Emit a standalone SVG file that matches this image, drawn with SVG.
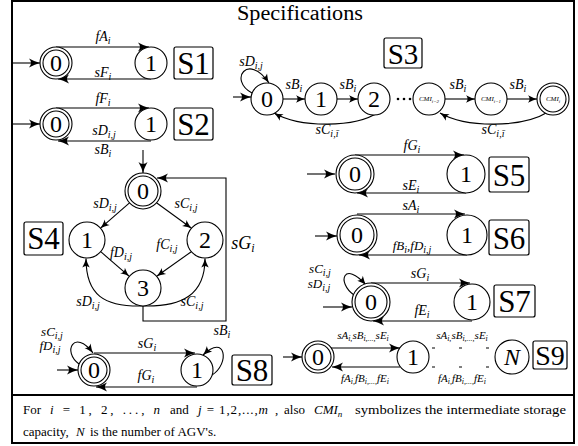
<svg xmlns="http://www.w3.org/2000/svg" width="578" height="446" viewBox="0 0 578 446">
<style>
text{font-family:"Liberation Serif","Times New Roman","DejaVu Serif",serif}
.c{fill:#fff;stroke:#000;stroke-width:1.1}
.e{fill:none;stroke:#000;stroke-width:1.1;marker-end:url(#a)}
.es{fill:none;stroke:#000;stroke-width:1.1;marker-end:url(#b)}
.p{fill:none;stroke:#000;stroke-width:1.1}
.n{font-size:24px;text-anchor:middle}
.bx{fill:#fff;stroke:#000;stroke-width:1.2}
.bt{font-size:31px;text-anchor:middle}
.l{font-style:italic;font-size:14px;text-anchor:middle}
.l2{font-style:italic;font-size:11px;text-anchor:middle}
.s{font-size:10px}
.s2{font-size:8px}
.ft{font-size:13px}
.cm{font-style:italic;font-size:7px;text-anchor:middle}
</style>
<defs>
<marker id="a" markerUnits="userSpaceOnUse" viewBox="-11 -5 12 10" refX="0" refY="0" markerWidth="12" markerHeight="10" orient="auto" overflow="visible">
<path d="M0,0 Q-5,-1.2 -11,-4.5 Q-7,0 -11,4.5 Q-5,1.2 0,0Z" fill="#000"/>
</marker>
<marker id="b" markerUnits="userSpaceOnUse" viewBox="-9 -4 10 8" refX="0" refY="0" markerWidth="10" markerHeight="8" orient="auto" overflow="visible">
<path d="M0,0 Q-4,-1 -9,-3.7 Q-5.8,0 -9,3.7 Q-4,1 0,0Z" fill="#000"/>
</marker>
</defs>
<g id="frame">
<rect x="12" y="1" width="562" height="442" fill="#fff" stroke="#000" stroke-width="2"/>
<line x1="12" y1="395" x2="574" y2="395" stroke="#000" stroke-width="2"/>
<text x="300" y="20" font-size="20" text-anchor="middle" textLength="126" lengthAdjust="spacingAndGlyphs">Specifications</text>
</g>
<g id="connectors">
<path class="e" d="M12,63 H40"/>
<path class="e" d="M56,47 H149"/>
<path class="e" d="M151,79 H58"/>
<path class="e" d="M12,124 H40"/>
<path class="e" d="M56,108 H149"/>
<path class="e" d="M151,141 H58"/>
<path class="e" d="M233,97 H251"/>
<path class="es" d="M252,93 C228,80 248,52 269,83"/>
<path class="es" d="M283,99 H305"/>
<path class="es" d="M337,99 H358"/>
<path class="es" d="M445,99 H475"/>
<path class="es" d="M507,99 H537"/>
<path class="es" d="M379,112 C355,128 300,128 274,113"/>
<path class="es" d="M548,112 C522,128 466,128 440,113"/>
<path class="e" d="M143,150 V173"/>
<path class="es" d="M129.5,202.8 L100.5,228.2"/>
<path class="es" d="M156.5,202.8 L191.5,228.2"/>
<path class="es" d="M100.7,251.7 L129.3,276.3"/>
<path class="es" d="M191.3,251.7 L156.7,276.3"/>
<path class="es" d="M143,306 C104,307 86,295 86,258.5"/>
<path class="es" d="M143,306 C182,307 205,295 205,258.5"/>
<path class="e" d="M143,306 V321 H226 V178 H157"/>
<path class="e" d="M307,174 H335"/>
<path class="e" d="M355,155 H464"/>
<path class="e" d="M466,193 H357"/>
<path class="e" d="M315,236 H337"/>
<path class="e" d="M357,214 H465"/>
<path class="e" d="M467,255 H359"/>
<path class="e" d="M323,307 H352"/>
<path class="es" d="M354,295 C336,282 344,260 366,285"/>
<path class="e" d="M371,283 H470"/>
<path class="e" d="M472,321 H373"/>
<path class="e" d="M57,370 H78"/>
<path class="es" d="M79,364 C62,352 74,328 93,353"/>
<path class="e" d="M94,353 H195"/>
<path class="es" d="M212,375 C230,364 226,333 203,355"/>
<path class="e" d="M197,387 H96"/>
<path class="e" d="M283,357 H302"/>
<path class="e" d="M331,348 H400"/>
<path class="e" d="M400,367 H332"/>
<path class="p" d="M432,348 H496" stroke-dasharray="3 24"/>
<path class="p" d="M432,367 H496" stroke-dasharray="3 24"/>
</g>
<g id="labels">
<text class="l" x="103" y="41">fA<tspan class="s" dy="3">i</tspan></text>
<text class="l" x="103" y="77">sF<tspan class="s" dy="3">i</tspan></text>
<text class="l" x="103" y="103">fF<tspan class="s" dy="3">i</tspan></text>
<text class="l" x="104" y="135">sD<tspan class="s" dy="3">i,j</tspan></text>
<text class="l" x="103" y="154">sB<tspan class="s" dy="3">i</tspan></text>
<text class="l" x="251" y="66">sD<tspan class="s" dy="3">i,j</tspan></text>
<text class="l" x="294" y="89">sB<tspan class="s" dy="3">i</tspan></text>
<text class="l" x="348" y="89">sB<tspan class="s" dy="3">i</tspan></text>
<text class="l" x="458" y="89">sB<tspan class="s" dy="3">i</tspan></text>
<text class="l" x="518" y="89">sB<tspan class="s" dy="3">i</tspan></text>
<text class="l" x="327" y="134">sC<tspan class="s" dy="3">i,ī</tspan></text>
<text class="l" x="493" y="134">sC<tspan class="s" dy="3">i,ī</tspan></text>
<text class="l" x="105" y="208">sD<tspan class="s" dy="3">i,j</tspan></text>
<text class="l" x="186" y="208">sC<tspan class="s" dy="3">i,j</tspan></text>
<text class="l" x="121" y="257">fD<tspan class="s" dy="3">i,j</tspan></text>
<text class="l" x="167" y="249">fC<tspan class="s" dy="3">i,j</tspan></text>
<text class="l" x="243" y="249" style="font-size:18px">sG<tspan style="font-size:12px" dy="3">i</tspan></text>
<text class="l" x="88" y="306">sD<tspan class="s" dy="3">i,j</tspan></text>
<text class="l" x="192" y="306">sC<tspan class="s" dy="3">i,j</tspan></text>
<text class="l" x="412" y="150">fG<tspan class="s" dy="3">i</tspan></text>
<text class="l" x="411" y="190">sE<tspan class="s" dy="3">i</tspan></text>
<text class="l" x="411" y="210">sA<tspan class="s" dy="3">i</tspan></text>
<text class="l" x="412" y="250" style="font-size:13px">fB<tspan class="s" dy="3">i</tspan><tspan dy="-3">,fD</tspan><tspan class="s" dy="3">i,j</tspan></text>
<text class="l" x="320" y="273" style="font-size:13px">sC<tspan class="s" dy="3">i,j</tspan></text>
<text class="l" x="319" y="288" style="font-size:13px">sD<tspan class="s" dy="3">i,j</tspan></text>
<text class="l" x="420" y="278">sG<tspan class="s" dy="3">i</tspan></text>
<text class="l" x="422" y="315">fE<tspan class="s" dy="3">i</tspan></text>
<text class="l" x="52" y="336" style="font-size:13px">sC<tspan class="s" dy="3">i,j</tspan></text>
<text class="l" x="50" y="350" style="font-size:13px">fD<tspan class="s" dy="3">i,j</tspan></text>
<text class="l" x="147" y="348">sG<tspan class="s" dy="3">i</tspan></text>
<text class="l" x="146" y="380">fG<tspan class="s" dy="3">i</tspan></text>
<text class="l" x="222" y="335">sB<tspan class="s" dy="3">i</tspan></text>
<text class="l2" x="363" y="339">sA<tspan class="s2" dy="2">i,</tspan><tspan dy="-2">sB</tspan><tspan class="s2" dy="2">i,...,</tspan><tspan dy="-2">sE</tspan><tspan class="s2" dy="2">i</tspan></text>
<text class="l2" x="462" y="339">sA<tspan class="s2" dy="2">i,</tspan><tspan dy="-2">sB</tspan><tspan class="s2" dy="2">i,...,</tspan><tspan dy="-2">sE</tspan><tspan class="s2" dy="2">i</tspan></text>
<text class="l2" x="365" y="382">fA<tspan class="s2" dy="2">i,</tspan><tspan dy="-2">fB</tspan><tspan class="s2" dy="2">i,...,</tspan><tspan dy="-2">fE</tspan><tspan class="s2" dy="2">i</tspan></text>
<text class="l2" x="462" y="382">fA<tspan class="s2" dy="2">i,</tspan><tspan dy="-2">fB</tspan><tspan class="s2" dy="2">i,...,</tspan><tspan dy="-2">fE</tspan><tspan class="s2" dy="2">i</tspan></text>
</g>
<g id="S1-0"><circle class="c" cx="56" cy="63" r="16"/><circle class="c" cx="56" cy="63" r="13"/><text class="n" x="56" y="71">0</text></g>
<g id="S1-1"><circle class="c" cx="151" cy="63" r="16"/><text class="n" x="151" y="71">1</text></g>
<g id="S1"><rect class="bx" x="174" y="47" width="39" height="32" rx="2"/><text class="bt" x="193.5" y="74">S1</text></g>
<g id="S2-0"><circle class="c" cx="56" cy="124" r="16"/><circle class="c" cx="56" cy="124" r="13"/><text class="n" x="56" y="132">0</text></g>
<g id="S2-1"><circle class="c" cx="151" cy="124" r="16"/><text class="n" x="151" y="132">1</text></g>
<g id="S2"><rect class="bx" x="174" y="108" width="39" height="32" rx="2"/><text class="bt" x="193.5" y="135">S2</text></g>
<g id="S3-0"><circle class="c" cx="267" cy="99" r="16"/><text class="n" x="267" y="107">0</text></g>
<g id="S3-1"><circle class="c" cx="321" cy="99" r="16"/><text class="n" x="321" y="107">1</text></g>
<g id="S3-2"><circle class="c" cx="374" cy="99" r="16"/><text class="n" x="374" y="107">2</text></g>
<g id="S3-dots"><circle cx="398" cy="99" r="1.3"/><circle cx="404" cy="99" r="1.3"/><circle cx="410" cy="99" r="1.3"/></g>
<g id="S3-CMIi-2"><circle class="c" cx="429" cy="99" r="16"/><text class="cm" x="429" y="101">CMI<tspan style="font-size:5px" dy="1.5">i−2</tspan></text></g>
<g id="S3-CMIi-1"><circle class="c" cx="491" cy="99" r="16"/><text class="cm" x="491" y="101">CMI<tspan style="font-size:5px" dy="1.5">i−1</tspan></text></g>
<g id="S3-CMIi"><circle class="c" cx="553" cy="99" r="16"/><circle class="c" cx="553" cy="99" r="13"/><text class="cm" x="553" y="101">CMI<tspan style="font-size:5px" dy="1.5">i</tspan></text></g>
<g id="S3"><rect class="bx" x="384" y="38" width="38" height="30" rx="2"/><text class="bt" x="403" y="64" style="font-size:29px">S3</text></g>
<g id="S4-0"><circle class="c" cx="143" cy="191" r="18"/><circle class="c" cx="143" cy="191" r="15"/><text class="n" x="143" y="199">0</text></g>
<g id="S4-1"><circle class="c" cx="87" cy="240" r="18"/><text class="n" x="87" y="248">1</text></g>
<g id="S4-2"><circle class="c" cx="205" cy="240" r="18"/><text class="n" x="205" y="248">2</text></g>
<g id="S4-3"><circle class="c" cx="143" cy="288" r="18"/><text class="n" x="143" y="296">3</text></g>
<g id="S4"><rect class="bx" x="24" y="222" width="39" height="33" rx="2"/><text class="bt" x="43.5" y="249">S4</text></g>
<g id="S5-0"><circle class="c" cx="355" cy="174" r="19"/><circle class="c" cx="355" cy="174" r="16"/><text class="n" x="355" y="182">0</text></g>
<g id="S5-1"><circle class="c" cx="466" cy="174" r="19"/><text class="n" x="466" y="182">1</text></g>
<g id="S5"><rect class="bx" x="489" y="157" width="40" height="35" rx="2"/><text class="bt" x="509" y="186">S5</text></g>
<g id="S6-0"><circle class="c" cx="357" cy="235" r="20"/><circle class="c" cx="357" cy="235" r="17"/><text class="n" x="357" y="243">0</text></g>
<g id="S6-1"><circle class="c" cx="467" cy="235" r="20"/><text class="n" x="467" y="243">1</text></g>
<g id="S6"><rect class="bx" x="489" y="220" width="40" height="35" rx="2"/><text class="bt" x="509" y="249">S6</text></g>
<g id="S7-0"><circle class="c" cx="371" cy="302" r="19"/><circle class="c" cx="371" cy="302" r="16"/><text class="n" x="371" y="310">0</text></g>
<g id="S7-1"><circle class="c" cx="472" cy="302" r="18"/><text class="n" x="472" y="310">1</text></g>
<g id="S7"><rect class="bx" x="494" y="285" width="41" height="32" rx="2"/><text class="bt" x="514.5" y="312">S7</text></g>
<g id="S8-0"><circle class="c" cx="94" cy="370" r="16"/><circle class="c" cx="94" cy="370" r="13"/><text class="n" x="94" y="378">0</text></g>
<g id="S8-1"><circle class="c" cx="197" cy="370" r="16"/><text class="n" x="197" y="378">1</text></g>
<g id="S8"><rect class="bx" x="232" y="355" width="40" height="30" rx="2"/><text class="bt" x="252" y="381">S8</text></g>
<g id="S9-0"><circle class="c" cx="318" cy="357" r="16"/><circle class="c" cx="318" cy="357" r="13"/><text class="n" x="318" y="365">0</text></g>
<g id="S9-1"><circle class="c" cx="413" cy="357" r="16"/><text class="n" x="413" y="365">1</text></g>
<g id="S9-N"><circle class="c" cx="512" cy="357" r="17"/><text class="n" x="512" y="365" font-style="italic">N</text></g>
<g id="S9"><rect class="bx" x="533" y="341" width="34" height="28" rx="2"/><text class="bt" x="550" y="365" style="font-size:28px">S9</text></g>
<g id="footnote">
<text class="ft" x="23" y="414">For</text>
<text class="ft" x="50" y="414" textLength="110" lengthAdjust="spacing"><tspan font-style="italic">i</tspan> = 1, 2, ..., <tspan font-style="italic">n</tspan></text>
<text class="ft" x="170" y="414">and</text>
<text class="ft" x="198" y="414" font-size="11" textLength="70" lengthAdjust="spacing"><tspan font-style="italic">j</tspan> = 1,2,...,<tspan font-style="italic">m</tspan></text>
<text class="ft" x="275" y="414">,</text>
<text class="ft" x="284" y="414">also</text>
<text class="ft" x="314" y="414" font-style="italic">CMI<tspan font-size="9" dy="3">n</tspan></text>
<text class="ft" x="355" y="414" font-size="14" textLength="211" lengthAdjust="spacingAndGlyphs">symbolizes the intermediate storage</text>
<text class="ft" x="23" y="436">capacity,</text>
<text class="ft" x="76" y="436" font-style="italic">N</text>
<text class="ft" x="90" y="436" font-size="11">is the number of AGV's.</text>
</g>
</svg>
